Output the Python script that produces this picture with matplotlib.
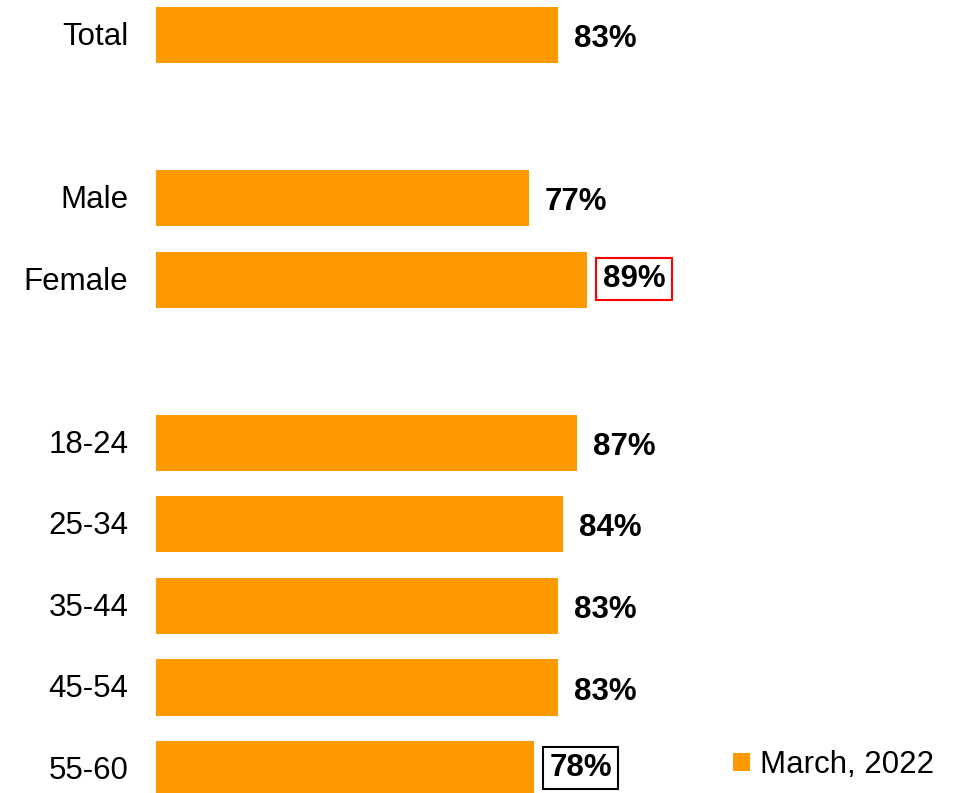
import numpy as np
import matplotlib.pyplot as plt
from matplotlib.transforms import ScaledTranslation

plt.rcParams['font.family'] = ['Liberation Sans', 'DejaVu Sans']

# data
categories = ['Total', '', 'Male', 'Female', '', '18-24', '25-34', '35-44', '45-54', '55-60']
values = [83, None, 77, 89, None, 87, 84, 83, 83, 78]
series_name = 'March, 2022'
boxed = {3: 'red', 9: 'black'}  # highlighted labels

orange = '#FF9900'
W, H = 966, 793
fig = plt.figure(figsize=(W / 100, H / 100), dpi=100)
ax = fig.add_axes([156 / W, 0, 1 - 156 / W, 1])

pos = np.arange(len(categories))
mask = [v is not None for v in values]
bars = ax.barh(pos[mask], [v for v in values if v is not None], height=0.69,
               color=orange, label=series_name)

ax.set_xlim(0, (W - 156) / 4.84)
ax.set_ylim(9 + 24 / 81.55, -35 / 81.55)
ax.set_yticks(pos)
ax.set_yticklabels(categories, fontsize=22.5)
ax.tick_params(axis='y', length=0, pad=20)
# nudge category labels up a little
for lbl in ax.get_yticklabels():
    lbl.set_transform(lbl.get_transform() + ScaledTranslation(0, 0.015, fig.dpi_scale_trans))
ax.set_xticks([])
for s in ax.spines.values():
    s.set_visible(False)

for p, v in zip(pos, values):
    if v is None:
        continue
    if p in boxed:
        ax.text(v + 3.3, p - 0.01, f'{v}%', fontsize=22.5, fontweight='bold',
                va='center', ha='left',
                bbox=dict(boxstyle='square,pad=0.2', fc='white', ec=boxed[p], lw=1.5))
    else:
        ax.text(v + 3.3, p + 0.05, f'{v}%', fontsize=22.5, fontweight='bold',
                va='center', ha='left')

ax.legend(loc='center left', bbox_to_anchor=(733 / W, 1 - 765 / H),
          bbox_transform=fig.transFigure, frameon=False, fontsize=22.5,
          handlelength=0.55, handleheight=0.55, handletextpad=0.3,
          borderpad=0, borderaxespad=0)

fig.savefig('out.png', dpi=100)
